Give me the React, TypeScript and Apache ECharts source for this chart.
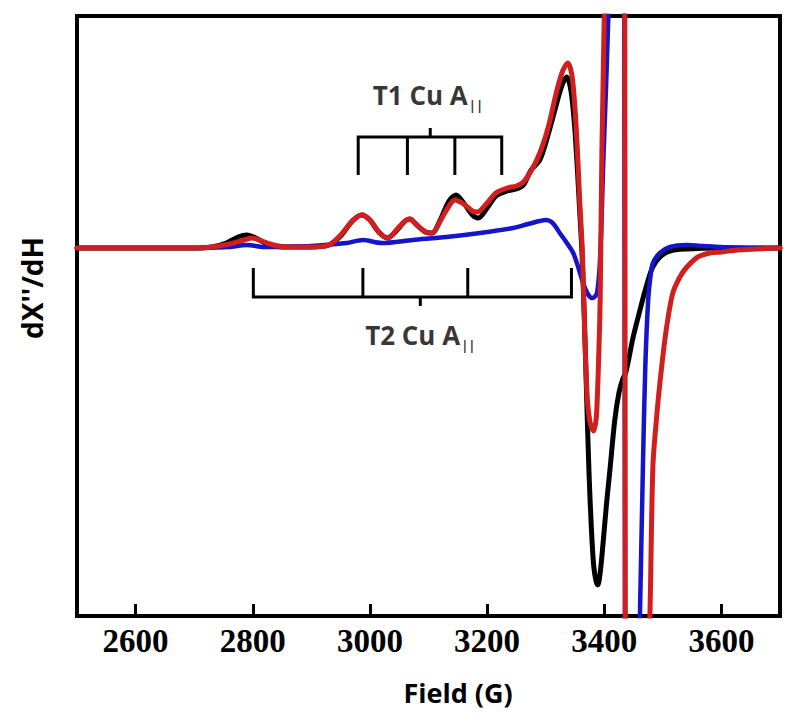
import React, { useEffect, useRef } from "react";
import * as echarts from "echarts";

// ---- spectra (field in G, signal in arbitrary units) ----
const blackField = [2500, 2600, 2700, 2730, 2755, 2775, 2790, 2805, 2825, 2850, 2900, 2930, 2950, 2970, 2986, 3000, 3015, 3030, 3045, 3060, 3068, 3080, 3095, 3106, 3120, 3135, 3147, 3160, 3175, 3185, 3200, 3215, 3234, 3250, 3262, 3275, 3290, 3305, 3318, 3328, 3336, 3343, 3349, 3354, 3358, 3362, 3366, 3370, 3374, 3378, 3382, 3386, 3389, 3393, 3398, 3404, 3410, 3418, 3425, 3431, 3437, 3449, 3461, 3471, 3482, 3495, 3512, 3540, 3600, 3700];
const blackSignal = [0, 0, 0, 1, 5, 11, 13, 10, 4, 1, 1, 3, 12, 27, 33, 28, 16, 10, 17, 27, 29, 23, 16, 15, 28, 47, 53, 45, 33, 30, 40, 52, 57, 59, 63, 78, 88, 115, 143, 163, 171, 158, 125, 80, 38, -5, -70, -150, -225, -280, -318, -333, -337, -325, -295, -255, -220, -172, -145, -132, -124, -90, -62, -40, -20, -9, -3, -1, 0, 0];

const redField = [2500, 2600, 2700, 2730, 2760, 2785, 2799, 2815, 2835, 2860, 2900, 2930, 2950, 2970, 2986, 3000, 3015, 3031, 3045, 3060, 3068, 3080, 3095, 3106, 3120, 3135, 3145, 3160, 3175, 3183, 3200, 3215, 3234, 3250, 3262, 3278, 3292, 3305, 3318, 3329, 3338, 3345, 3350, 3354, 3358, 3362, 3364, 3367, 3371, 3376, 3382, 3386, 3388, 3391, 3393, 3396, 3400, 3404, 3415, 3428, 3435, 3436, 3455, 3474, 3478, 3483, 3490, 3495, 3505, 3517, 3530, 3541, 3555, 3563, 3580, 3600, 3627, 3660, 3700];
const redSignal = [0, 0, 0, 1, 4, 8, 10, 7, 3, 1, 1, 3, 13, 27, 33, 28, 16, 10, 18, 27, 29, 23, 16, 15, 27, 42, 48, 44, 37, 36, 45, 55, 60, 62, 66, 80, 98, 122, 155, 177, 185, 172, 140, 100, 48, 5, -30, -90, -150, -175, -183, -172, -152, -100, -52, 98, 232, 420, 700, 600, 300, -420, -800, -420, -365, -219, -165, -135, -85, -45, -28, -19, -11, -8, -5, -4, -2, -1, 0];

const blueField = [2500, 2700, 2760, 2790, 2820, 2900, 2960, 2988, 3020, 3073, 3131, 3188, 3244, 3270, 3290, 3300, 3312, 3324, 3335, 3347, 3356, 3364, 3372, 3379, 3385, 3388, 3392, 3395, 3398, 3403, 3407, 3412, 3425, 3434, 3435.5, 3448, 3459, 3461, 3466, 3470, 3475, 3479, 3483, 3495, 3512, 3541, 3570, 3598, 3650, 3700];
const blueSignal = [0, 0, 1, 3, 1, 2, 5, 8, 5, 8, 11, 15, 20, 24, 27, 28, 25, 15, 6, -5, -20, -35, -46, -50, -48, -44, -20, 20, 80, 160, 232, 330, 700, 300, -420, -700, -420, -365, -219, -120, -52, -28, -15, -5, 1, 3, 2, 1, 0, 0];

// ---- hyperfine stick diagrams ----
const t1Lines = [2980, 3064, 3145, 3225];
const t1Centre = 3103;
const t2Lines = [2801, 2988, 3167, 3344];
const t2Centre = 3086;
const t1Levels = { bar: 111, foot: 73, tip: 120, label: 153 };
const t2Levels = { bar: -49, foot: -20, tip: -58, label: -87 };

const xTitle = "Field (G)";
const yTitle = "dX''/dH";

function zip(xs: number[], ys: number[]) {
  return xs.map((x, i) => [x, ys[i]]);
}

function bracket(lines: number[], centre: number, lv: { bar: number; foot: number; tip: number }) {
  const a = lines[0];
  const d = lines[lines.length - 1];
  const pts: any[] = [[a, lv.foot], [a, lv.bar], [d, lv.bar], [d, lv.foot]];
  for (let i = 1; i < lines.length - 1; i++) {
    pts.push([lines[i], "-"]);
    pts.push([lines[i], lv.bar]);
    pts.push([lines[i], lv.foot]);
  }
  pts.push([centre, "-"]);
  pts.push([centre, lv.bar]);
  pts.push([centre, lv.tip]);
  return pts;
}

export default function App() {
  const ref = useRef<HTMLDivElement>(null);
  useEffect(() => {
    if (!ref.current) return;
    const chart = echarts.init(ref.current, undefined, { renderer: "svg" });
    const sans = "'Open Sans', 'Noto Sans', sans-serif";
    const spectrum = (name: string, data: any[], color: string, width: number) => ({
      name,
      type: "line",
      data,
      smooth: 0.3,
      symbol: "none",
      clip: true,
      lineStyle: { color, width, join: "round", cap: "round" },
      z: 2,
    });
    const bracketSeries = (name: string, data: any[]) => ({
      name,
      type: "line",
      data,
      symbol: "none",
      connectNulls: false,
      lineStyle: { color: "#000", width: 3, join: "miter", cap: "butt" },
      z: 3,
    });
    const labelSeries = (name: string, x: number, y: number, main: string) => ({
      name,
      type: "scatter",
      symbolSize: 1,
      itemStyle: { color: "transparent" },
      data: [[x, y]],
      z: 4,
      label: {
        show: true,
        position: "inside",
        formatter: "{m|" + main + "}{s|||}",
        rich: {
          m: { fontFamily: sans, fontWeight: "bold", fontSize: 26, lineHeight: 32, color: "#000" },
          s: { fontFamily: sans, fontWeight: "bold", fontSize: 13, lineHeight: 14, color: "#000", verticalAlign: "bottom", padding: [0, 0, 0, 1] },
        },
      },
    });
    chart.setOption({
      animation: false,
      backgroundColor: "#fff",
      grid: { left: 77, right: 18, top: 16, bottom: 106, show: true, borderColor: "#000", borderWidth: 4, backgroundColor: "transparent" },
      xAxis: {
        type: "value",
        min: 2500,
        max: 3700,
        splitNumber: 6,
        splitLine: { show: false },
        axisLine: { show: true, onZero: false, lineStyle: { color: "#000", width: 4 } },
        axisTick: { show: true, inside: true, length: 12, lineStyle: { color: "#000", width: 3 } },
        axisLabel: {
          showMinLabel: false,
          showMaxLabel: false,
          margin: 8,
          color: "#000",
          fontFamily: "'Liberation Serif', 'DejaVu Serif', serif",
          fontWeight: "bold",
          fontSize: 33,
          formatter: (v: number) => String(v),
        },
      },
      yAxis: {
        type: "value",
        min: -368,
        max: 232,
        show: true,
        axisLine: { show: false },
        axisTick: { show: false },
        axisLabel: { show: false },
        splitLine: { show: false },
      },
      graphic: [
        {
          type: "text",
          x: 458,
          y: 692,
          style: { text: xTitle, font: "bold 27px " + sans, fill: "#000", align: "center", verticalAlign: "middle" },
        },
        {
          type: "text",
          x: 32,
          y: 288,
          rotation: Math.PI / 2,
          style: { text: yTitle, font: "bold 28px " + sans, fill: "#000", align: "center", verticalAlign: "middle" },
        },
      ],
      series: [
        spectrum("black", zip(blackField, blackSignal), "#000000", 5),
        spectrum("blue", zip(blueField, blueSignal), "#1414c8", 4.5),
        spectrum("red", zip(redField, redSignal), "#d11f1f", 5),
        bracketSeries("T1 bracket", bracket(t1Lines, t1Centre, t1Levels)),
        bracketSeries("T2 bracket", bracket(t2Lines, t2Centre, t2Levels)),
        labelSeries("T1 label", t1Centre - 4, t1Levels.label, "T1 Cu A"),
        labelSeries("T2 label", t2Centre, t2Levels.label, "T2 Cu A"),
      ],
    });
    return () => chart.dispose();
  }, []);
  return <div ref={ref} style={{ position: "absolute", left: 0, top: 0, width: 798, height: 722, background: "#fff" }} />;
}
